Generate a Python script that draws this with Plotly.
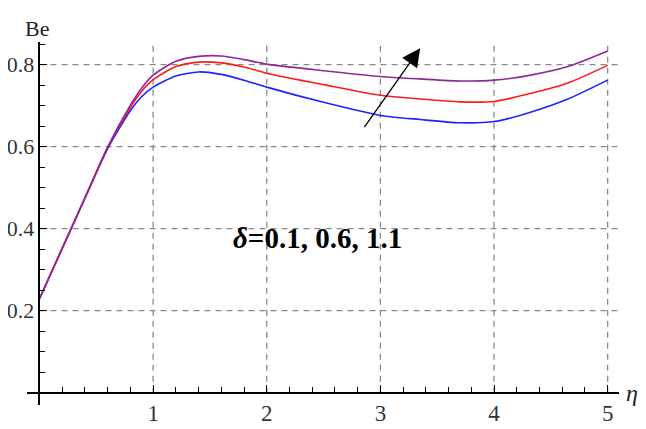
import plotly.graph_objects as go

# ---- data ----
eta = [0, 0.2, 0.4, 0.6, 0.8, 0.9, 1.0, 1.2, 1.4, 1.6, 1.8, 2.0, 2.5, 3.0, 3.35, 3.7, 4.0, 4.3, 4.65, 5.0]
be_01 = [0.229, 0.352, 0.474, 0.595, 0.688, 0.722, 0.745, 0.772, 0.782, 0.776, 0.762, 0.745, 0.708, 0.676,
         0.666, 0.658, 0.661, 0.682, 0.716, 0.762]
be_06 = [0.229, 0.352, 0.475, 0.598, 0.696, 0.735, 0.763, 0.795, 0.806, 0.804, 0.794, 0.779, 0.751, 0.725,
         0.716, 0.709, 0.710, 0.728, 0.755, 0.798]
be_11 = [0.229, 0.352, 0.475, 0.599, 0.701, 0.743, 0.774, 0.808, 0.820, 0.821, 0.812, 0.801, 0.785, 0.771,
         0.765, 0.760, 0.762, 0.773, 0.795, 0.833]

x_ticks = [1, 2, 3, 4, 5]
y_ticks = [0.2, 0.4, 0.6, 0.8]
y_tick_text = ["0.2", "0.4", "0.6", "0.8"]

X_RANGE = [-0.11, 5.1]
Y_RANGE = [-0.03, 0.855]

series = [
    (be_01, "#1f1fff", "δ=0.1"),
    (be_06, "#ff1a1a", "δ=0.6"),
    (be_11, "#8c2a96", "δ=1.1"),
]

FONT = "Liberation Serif, Times New Roman, serif"

fig = go.Figure()
for vals, col, name in series:
    fig.add_trace(go.Scatter(x=eta, y=vals, mode="lines", name=name,
                             line=dict(color=col, width=1.6, shape="spline", smoothing=0.7),
                             showlegend=False))

# dashed grid lines from the axes
grid_style = dict(color="#8a8a8a", width=1.3, dash="6px,5px")
for yv in y_ticks:
    fig.add_shape(type="line", xref="x", yref="y", x0=0, x1=X_RANGE[1], y0=yv, y1=yv,
                  line=grid_style, layer="below")
for xv in x_ticks:
    fig.add_shape(type="line", xref="x", yref="y", x0=xv, x1=xv, y0=0, y1=Y_RANGE[1],
                  line=grid_style, layer="below")

xpos = (0 - Y_RANGE[0]) / (Y_RANGE[1] - Y_RANGE[0])
ypos = (0 - X_RANGE[0]) / (X_RANGE[1] - X_RANGE[0])

x_tick_font = dict(family=FONT, size=23, color="#333333")
y_tick_font = dict(family=FONT, size=22, color="#333333")

fig.update_layout(
    width=646, height=429,
    margin=dict(l=19, r=35, t=34, b=32, autoexpand=False),
    paper_bgcolor="white", plot_bgcolor="white",
    font=dict(family=FONT, size=22, color="#333333"),
    xaxis=dict(range=X_RANGE, anchor="free", position=xpos, showgrid=False, zeroline=False,
               automargin=False,
               showline=True, linecolor="black", linewidth=1.6,
               tickmode="array", tickvals=x_ticks, ticktext=[str(v) for v in x_ticks],
               ticks="inside", ticklen=7, tickwidth=1.3, tickcolor="black",
               minor=dict(dtick=0.2, tick0=0, ticks="inside", ticklen=5, tickwidth=1.2, tickcolor="black"),
               tickfont=x_tick_font),
    yaxis=dict(range=Y_RANGE, anchor="free", position=ypos, showgrid=False, zeroline=False,
               automargin=False,
               showline=True, linecolor="black", linewidth=1.6,
               tickmode="array", tickvals=y_ticks, ticktext=y_tick_text,
               ticks="inside", ticklen=7, tickwidth=1.3, tickcolor="black",
               minor=dict(dtick=0.05, tick0=0, ticks="inside", ticklen=5, tickwidth=1.2, tickcolor="black"),
               tickfont=y_tick_font),
)

# arrow showing increasing delta
fig.add_annotation(x=3.35, y=0.84, ax=2.85, ay=0.644, xref="x", yref="y", axref="x", ayref="y",
                   text="", showarrow=True, arrowhead=2, arrowsize=2.8, arrowwidth=1.3, arrowcolor="black")

fig.add_annotation(x=2.45, y=0.378, xref="x", yref="y", showarrow=False,
                   text="<b><i>δ</i>=0.1, 0.6, 1.1</b>",
                   font=dict(family=FONT, size=29, color="black"))

fig.add_annotation(x=-0.02, y=1.076, xref="x", yref="paper", showarrow=False, text="Be",
                   font=dict(family=FONT, size=22, color="#222222"))
fig.add_annotation(x=1.036, y=0.0, xref="paper", yref="y", showarrow=False, text="<i>η</i>",
                   font=dict(family=FONT, size=24, color="#222222"))

fig.write_html("out.html")
